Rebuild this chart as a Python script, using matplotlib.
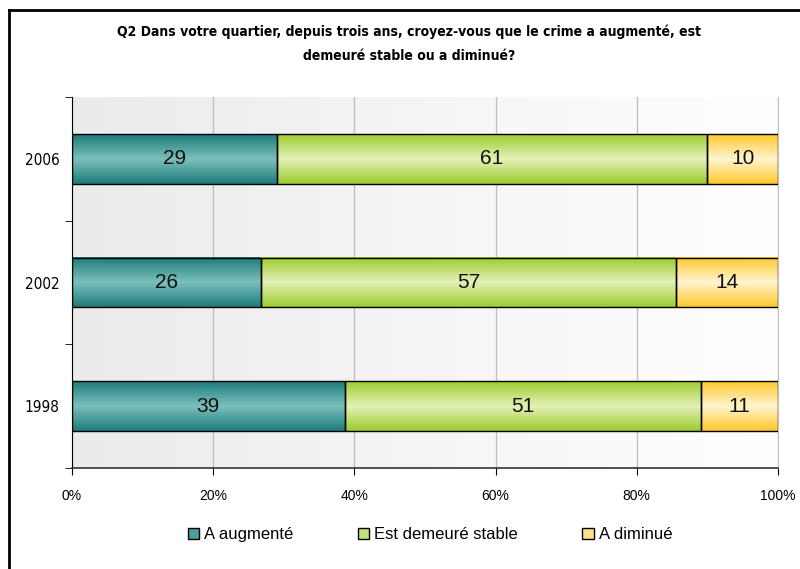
import matplotlib
matplotlib.use('Agg')
import matplotlib.pyplot as plt
import numpy as np
from matplotlib.colors import LinearSegmentedColormap
from matplotlib.patches import Patch
from matplotlib.ticker import PercentFormatter

years = ['1998', '2002', '2006']
augmente = [39, 26, 29]
stable = [51, 57, 61]
diminue = [11, 14, 10]
series_names = ['A augmenté', 'Est demeuré stable', 'A diminué']

title = ("Q2 Dans votre quartier, depuis trois ans, croyez-vous que le crime a augmenté, est\n"
         "demeuré stable ou a diminué?")

# edge colour / middle colour of each bar gradient
grads = [('#1b7b79', '#7cc0bc'), ('#9ccb2c', '#e4f1b8'), ('#ffc82a', '#fff4d0')]
plt.rcParams['font.family'] = ['Liberation Sans', 'DejaVu Sans']

fig = plt.figure(figsize=(8, 5.69), dpi=100)
ax = fig.add_axes([0.09, 0.1775, 0.8825, 0.652])

# background gradient of plot area
bg = LinearSegmentedColormap.from_list('bg', ['#ebebeb', '#ffffff'])
ax.imshow(np.linspace(0, 1, 256).reshape(1, -1), cmap=bg, aspect='auto',
          extent=[0, 1, 0, 1], transform=ax.transAxes, zorder=0)

data = np.array([augmente, stable, diminue], dtype=float)
pct = data / data.sum(axis=0) * 100
ypos = np.arange(len(years))

left = np.zeros(len(years))
for i in range(3):
    bars = ax.barh(ypos, pct[i], left=left, height=0.4, facecolor='none',
                   edgecolor='black', linewidth=1.0, zorder=3)
    cmap = LinearSegmentedColormap.from_list('g%d' % i, [grads[i][0], grads[i][1], grads[i][0]])
    grad = np.linspace(0, 1, 256).reshape(-1, 1)
    for b, v in zip(bars, data[i]):
        x0, y0, w, h = b.get_x(), b.get_y(), b.get_width(), b.get_height()
        ax.imshow(grad, cmap=cmap, aspect='auto', extent=[x0, x0 + w, y0, y0 + h],
                  zorder=2, interpolation='bilinear')
        ax.text(x0 + w / 2, y0 + h / 2, '%d' % v, ha='center', va='center',
                fontsize=15, color='#111111', zorder=4)
    left += pct[i]

ax.set_xlim(0, 100)
ax.set_ylim(-0.5, 2.5)
ax.set_xticks(np.arange(0, 101, 20))
ax.xaxis.set_major_formatter(PercentFormatter(decimals=0))
ax.set_yticks(ypos)
ax.set_yticklabels(years, family='DejaVu Sans', fontstretch='condensed', fontsize=11)
ax.set_yticks([-0.5, 0.5, 1.5, 2.5], minor=True)
ax.tick_params(axis='y', which='major', length=0, pad=9)
ax.tick_params(axis='y', which='minor', length=5, color='black')
ax.tick_params(axis='x', length=5, labelsize=10, pad=10)
ax.grid(axis='x', color='#c0c0c0', linewidth=1, zorder=1)
ax.set_axisbelow(True)
ax.spines['top'].set_visible(False)
ax.spines['right'].set_color('#c0c0c0')
ax.spines['left'].set_color('black')
ax.spines['bottom'].set_color('#333333')
ax.spines['bottom'].set_linewidth(1.2)

fig.text(0.511, 0.957, title, ha='center', va='top', fontsize=10, fontweight='bold',
         family='DejaVu Sans', fontstretch='condensed', linespacing=1.9)

handles = [Patch(facecolor=c, edgecolor='black', label=n)
           for c, n in zip(['#4a9e9b', '#c2e27a', '#ffe08a'], series_names)]
fig.legend(handles=handles, loc='center', bbox_to_anchor=(0.5375, 0.06), ncol=3,
           frameon=False, fontsize=12, handlelength=0.7, handleheight=0.7,
           handletextpad=0.3, columnspacing=3.85)

# border lines on left and top
fig.add_artist(plt.Line2D([0.0115, 0.0115], [0, 0.983], color='black', lw=2))
fig.add_artist(plt.Line2D([0.0115, 1], [0.983, 0.983], color='black', lw=2))

fig.savefig('out.png', dpi=100)
